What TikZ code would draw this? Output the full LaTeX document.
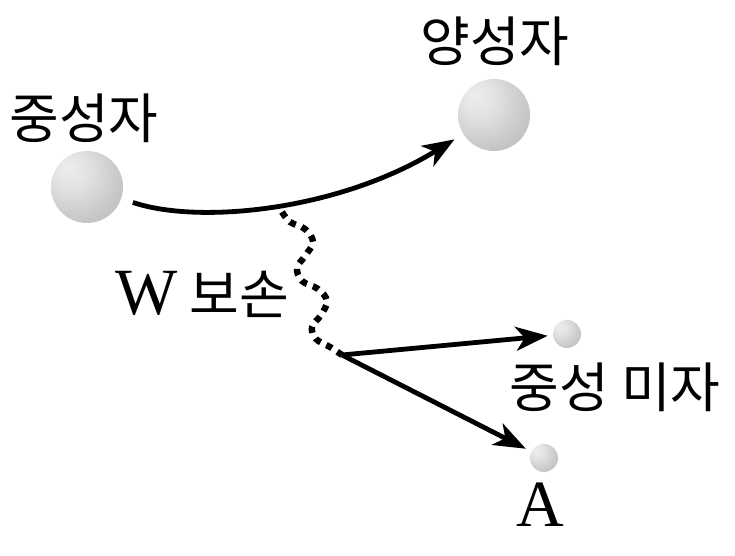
\documentclass[tikz,border=0pt]{standalone}
\usepackage{fontspec}
\setmainfont{Liberation Serif}
\newfontfamily\kofont{Noto Sans CJK KR}
\usetikzlibrary{arrows.meta}
\pgfdeclareradialshading{sphere}{\pgfpoint{-14bp}{14bp}}{%
  color(0bp)=(gray!14); color(12bp)=(gray!22); color(32bp)=(gray!45);
  color(55bp)=(gray!62); color(68bp)=(gray!78); color(75bp)=(gray!78)}
\tikzset{
  ball/.style={circle, inner sep=0pt, minimum size=#1, shading=sphere},
  arr/.style={line width=2.4pt, -{Stealth[length=16pt, width=12pt, inset=4.5pt]}},
  wave/.style={line width=3.2pt, dash pattern=on 3.2pt off 3.2pt},
  lab/.style={font=\kofont\fontsize{27}{27}\selectfont, inner sep=0pt},
  latin/.style={font=\fontsize{33}{33}\selectfont, inner sep=0pt}
}
\begin{document}
\begin{tikzpicture}[x=0.5pt, y=-0.5pt]
		\useasboundingbox (0,0) rectangle (735,556);

		% 입자
		\node [ball=36pt] (n) at ( 87, 187 ) {};
		\node [ball=36pt] (p) at ( 494, 115 ) {};
		\node [ball=14pt] (nu) at ( 567, 334 ) {};
		\node [ball=14pt] (a) at ( 544, 458 ) {};

		% 이름
		\node [lab] (ln) at ( 84, 118 ) {중성자};
		\node [lab] (lp) at ( 495, 41 ) {양성자};
		\node [lab] (lnu) at ( 615, 387 ) {중성 미자};
		\node [latin] (la) at ( 540, 505 ) {A};
		\node [lab] (lw) at ( 202, 294 ) {{\fontspec{Liberation Serif}\fontsize{33}{33}\selectfont W} 보손};

		% 중성자 -> 양성자
		\draw [arr, shorten <=6pt, shorten >=5pt] (n) .. controls ( 200, 225 ) and ( 340, 210 ) .. (p);

		% W 보손
		\coordinate (w1) at ( 282, 212 );
		\coordinate (w2) at ( 342, 355 );
		\draw [wave] plot [smooth, tension=0.6] coordinates { (w1) ( 290, 222 ) ( 305, 229 ) ( 313, 242 ) ( 305, 256 ) ( 297, 268 ) ( 302, 281 ) ( 318, 289 ) ( 327, 301 ) ( 321, 315 ) ( 312, 327 ) ( 316, 339 ) ( 330, 347 ) (w2) };

		% 붕괴
		\draw [arr, shorten >=2.5pt] (w2) -- (nu);
		\draw [arr, shorten >=3pt] (w2) -- (a);
\end{tikzpicture}
\end{document}
